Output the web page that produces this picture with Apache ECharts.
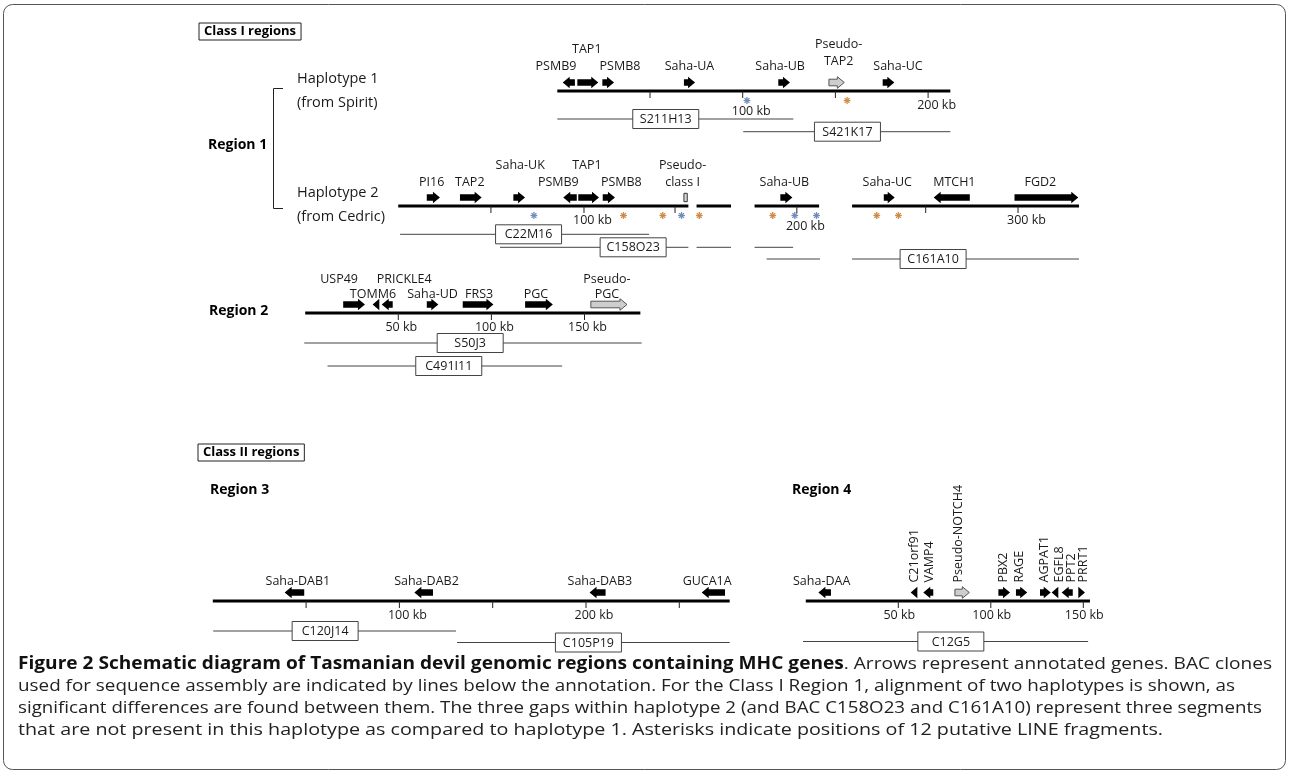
<!DOCTYPE html>
<html><head><meta charset="utf-8">
<script src="https://cdn.jsdelivr.net/npm/echarts@6/dist/echarts.min.js"></script>
<style>html,body{margin:0;padding:0;background:#fff}#c{width:1290px;height:775px}</style>
</head><body><div id="c"></div>
<script>
// ================= DATA (kb) =================
// Class I, Region 1, haplotype 1 (from Spirit)
const h1Genes   = ['PSMB9','TAP1','PSMB8','Saha-UA','Saha-UB','Pseudo-TAP2','Saha-UC'];
const h1Start   = [2.9, 10.8, 24.3, 68.3, 119.2, 146.5, 175.5];
const h1End     = [9.5, 22.1, 30.6, 74.3, 125.5, 154.8, 181.8];
const h1Strand  = ['-','+','+','+','+','+','+'];
const h1Segments = [[0, 212]];
const h1Ticks = [50, 100, 150, 200];
const h1TickLabels = ['', '100 kb', '', '200 kb'];
const h1LineFrags = [102.3, 156.3];
const h1LineFragType = ['b','o'];
const h1Clones = ['S211H13','S421K17'];
const h1CloneSpans = [[[0, 127.3]], [[100.3, 212]]];

// Class I, Region 1, haplotype 2 (from Cedric) — positions aligned to haplotype 1
const h2Genes   = ['PI16','TAP2','Saha-UK','PSMB9','TAP1','PSMB8','Pseudo-class I','Saha-UB','Saha-UC','MTCH1','FGD2'];
const h2Start   = [-70.4, -52.5, -23.7, 3.2, 11.3, 24.5, 68.3, 120.3, 176.1, 203.0, 246.6];
const h2End     = [-63.3, -40.8, -17.4, 10.5, 22.5, 31.1, 70.1, 126.8, 182.0, 222.5, 281.0];
const h2Strand  = ['+','+','+','-','+','+','.','+','+','-','+'];
const h2Segments = [[-85.8, 70.7], [75.1, 93.7], [106.4, 141.2], [159.0, 281.4]];
const h2Ticks = [-35.8, 14.4, 63.5, 129.2, 198.7, 248.5];
const h2TickLabels = ['', '100 kb', '', '200 kb', '', '300 kb'];
const h2LineFrags = [-12.6, 35.7, 56.9, 67.0, 76.6, 116.2, 128.1, 139.8, 172.3, 184.0];
const h2LineFragType = ['b','o','o','b','o','o','b','b','o','o'];
const h2Clones = ['C22M16','C158O23','C161A10'];
const h2CloneSpans = [[[-84.8, 49.5]], [[-30.9, 70.7], [75.1, 93.7], [106.4, 127.2]], [[112.9, 141.7], [159.0, 281.4]]];

// Class I, Region 2
const r2Genes   = ['USP49','TOMM6','PRICKLE4','Saha-UD','FRS3','PGC','Pseudo-PGC'];
const r2Start   = [20.4, 36.2, 41.1, 65.3, 84.6, 118.1, 153.4];
const r2End     = [32.1, 39.8, 47.0, 71.5, 101.1, 133.0, 172.8];
const r2Strand  = ['+','-','-','+','+','+','+'];
const r2Segments = [[0, 180]];
const r2Ticks = [50, 100, 150];
const r2TickLabels = ['50 kb', '100 kb', '150 kb'];
const r2Clones = ['S50J3','C491I11'];
const r2CloneSpans = [[[-0.5, 180.7]], [[12, 138]]];

// Class II, Region 3
const r3Genes   = ['Saha-DAB1','Saha-DAB2','Saha-DAB3','GUCA1A'];
const r3Start   = [38.5, 108.0, 201.9, 262.0];
const r3End     = [49.0, 118.0, 210.5, 274.5];
const r3Strand  = ['-','-','-','-'];
const r3Segments = [[0, 277]];
const r3Ticks = [50, 100, 150, 200, 250];
const r3TickLabels = ['', '100 kb', '', '200 kb', ''];
const r3Clones = ['C120J14','C105P19'];
const r3CloneSpans = [[[0.2, 130.3]], [[130.9, 277]]];

// Class II, Region 4
const r4Genes   = ['Saha-DAA','C21orf91','VAMP4','Pseudo-NOTCH4','PBX2','RAGE','AGPAT1','EGFL8','PPT2','PRRT1'];
const r4Start   = [6.8, 56.7, 63.5, 80.6, 104.1, 113.6, 126.6, 132.9, 138.3, 147.3];
const r4End     = [13.6, 60.3, 68.9, 88.4, 110.4, 119.7, 132.4, 136.5, 144.3, 150.9];
const r4Strand  = ['-','-','-','+','+','+','+','-','-','+'];
const r4Segments = [[0, 153.6]];
const r4Ticks = [50, 100, 150];
const r4TickLabels = ['50 kb', '100 kb', '150 kb'];
const r4Clones = ['C12G5'];
const r4CloneSpans = [[[-1.5, 152.6]]];

const captionBold = 'Figure 2 Schematic diagram of Tasmanian devil genomic regions containing MHC genes';
const captionLines = [
  '. Arrows represent annotated genes. BAC clones',
  'used for sequence assembly are indicated by lines below the annotation. For the Class I Region 1, alignment of two haplotypes is shown, as',
  'significant differences are found between them. The three gaps within haplotype 2 (and BAC C158O23 and C161A10) represent three segments',
  'that are not present in this haplotype as compared to haplotype 1. Asterisks indicate positions of 12 putative LINE fragments.'
];

// ================= LAYOUT (pixels, styles) =================
const FONT = '"Open Sans", "Noto Sans", sans-serif';
const SCALES = {
  r1: {px0: 557.3, ppk: 1.854, min: -92, max: 288},
  r2: {px0: 305.2, ppk: 1.862, min: -12, max: 186},
  r3: {px0: 212.8, ppk: 1.866, min: -4, max: 282},
  r4: {px0: 805.8, ppk: 1.850, min: -6, max: 160}
};
const LAYOUT = {
  h1: {scale: 'r1', base: 91, rows: [24.3, 41.7], cloneRows: [28, 40.7], tickDx: 8.5,
       labels: {'PSMB9':[-12.8,0], 'TAP1':[-1,1], 'PSMB8':[11.8,0], 'Saha-UA':[0,0], 'Saha-UB':[-4,0], 'Pseudo-TAP2':[2,0,-5], 'Saha-UC':[9.5,0]},
       boxes: {'S211H13':[58.5,0], 'S421K17':[156.5,1]}},
  h2: {scale: 'r1', base: 206, rows: [23.3, 41], cloneRows: [28.3, 41.3, 53], tickDx: 8.5,
       labels: {'PI16':[-1.7,0], 'TAP2':[-1,0], 'Saha-UK':[1,1], 'PSMB9':[-11.7,0], 'TAP1':[-1.7,1], 'PSMB8':[12.5,0],
                'Pseudo-class I':[-3,0], 'Saha-UB':[-2,0], 'Saha-UC':[-2,0], 'MTCH1':[2.6,0], 'FGD2':[-6,0]},
       boxes: {'C22M16':[-15.5,0], 'C158O23':[40.9,1], 'C161A10':[202.7,2]}},
  r2: {scale: 'r2', base: 313, rows: [19, 33.5], cloneRows: [30, 53], tickDx: 3,
       labels: {'USP49':[-15,1], 'TOMM6':[-3,0], 'PRICKLE4':[17,1], 'Saha-UD':[0,0], 'FRS3':[1,0], 'PGC':[-3,0], 'Pseudo-PGC':[-2,0]},
       boxes: {'S50J3':[88.6,0], 'C491I11':[77.1,1]}},
  r3: {scale: 'r3', base: 601, rows: [19.5, 36], cloneRows: [30, 41.5], tickDx: 8,
       labels: {'Saha-DAB1':[3.4,0], 'Saha-DAB2':[2.8,0], 'Saha-DAB3':[2.3,0], 'GUCA1A':[-6.2,0]},
       boxes: {'C120J14':[60.2,0], 'C105P19':[201.3,1]}},
  r4: {scale: 'r4', base: 601, rows: [19.5, 36], cloneRows: [40.5], tickDx: 1, vertBottom: 18.5,
       labels: {'Saha-DAA':[-3,0], 'C21orf91':[0,'v'], 'VAMP4':[1,'v'], 'Pseudo-NOTCH4':[-4,'v'], 'PBX2':[-1,'v'], 'RAGE':[-2,'v'],
                'AGPAT1':[-1,'v'], 'EGFL8':[4,'v'], 'PPT2':[4,'v'], 'PRRT1':[2,'v']},
       boxes: {'C12G5':[78.4,0]}}
};
const CAPTION = {x: 18, ys: [664, 686, 708, 730], ends: [1272, 1235, 1262, 1163], fontSize: 17};
const TRACKS = [
  {id:'h1', genes:h1Genes, start:h1Start, end:h1End, strand:h1Strand, segments:h1Segments, ticks:h1Ticks, tickLabels:h1TickLabels, frags:h1LineFrags, fragType:h1LineFragType, clones:h1Clones, spans:h1CloneSpans},
  {id:'h2', genes:h2Genes, start:h2Start, end:h2End, strand:h2Strand, segments:h2Segments, ticks:h2Ticks, tickLabels:h2TickLabels, frags:h2LineFrags, fragType:h2LineFragType, clones:h2Clones, spans:h2CloneSpans},
  {id:'r2', genes:r2Genes, start:r2Start, end:r2End, strand:r2Strand, segments:r2Segments, ticks:r2Ticks, tickLabels:r2TickLabels, frags:[], fragType:[], clones:r2Clones, spans:r2CloneSpans},
  {id:'r3', genes:r3Genes, start:r3Start, end:r3End, strand:r3Strand, segments:r3Segments, ticks:r3Ticks, tickLabels:r3TickLabels, frags:[], fragType:[], clones:r3Clones, spans:r3CloneSpans},
  {id:'r4', genes:r4Genes, start:r4Start, end:r4End, strand:r4Strand, segments:r4Segments, ticks:r4Ticks, tickLabels:r4TickLabels, frags:[], fragType:[], clones:r4Clones, spans:r4CloneSpans}
];
const FRAG_COLORS = {o: '#cf8a45', b: '#6f8cb8'};
const TXT = '#1a1a1a';

function geneShape(x1, x2, yc, strand, pseudo) {
  const w = x2 - x1, hh = 5.8, bh = 3.3, hl = Math.min(7, w);
  let pts;
  if (w < 8) pts = [[0,-hh],[w,0],[0,hh]];
  else pts = [[0,-bh],[w-hl,-bh],[w-hl,-hh],[w,0],[w-hl,hh],[w-hl,bh],[0,bh]];
  const P = pts.map(([px,py]) => [strand === '-' ? x2 - px : x1 + px, yc + py]);
  return {type:'polygon', shape:{points:P},
          style: pseudo ? {fill:'#cdcdcd', stroke:'#555', lineWidth:1} : {fill:'#000'}};
}

function makeRender(t) {
  const L = LAYOUT[t.id];
  return function (params, api) {
    const X = kb => api.coord([kb, 0])[0];
    const base = api.coord([0, 0])[1];
    const ch = [];
    t.segments.forEach(([a, b]) => ch.push({type:'line', shape:{x1:X(a), y1:base, x2:X(b), y2:base}, style:{stroke:'#000', lineWidth:3}}));
    t.ticks.forEach((k, i) => {
      const x = X(k);
      ch.push({type:'line', shape:{x1:x, y1:base, x2:x, y2:base + 7}, style:{stroke:'#222', lineWidth:1}});
      if (t.tickLabels[i]) {
        const lx = x + L.tickDx;
        const near = t.frags.some(p => Math.abs(X(p) - lx) < 14);
        ch.push({type:'text', style:{text:t.tickLabels[i], x:lx, y:base + (near ? 20.5 : 14.5), align:'center', verticalAlign:'middle',
                 fontSize:12.5, fontFamily:FONT, fill:TXT}});
      }
    });
    t.frags.forEach((p, i) => {
      const cx = X(p), cy = base + 9.5, r = 3.4, col = FRAG_COLORS[t.fragType[i]];
      [0, 45, 90, 135].forEach(a => {
        const dx = r * Math.cos(a * Math.PI / 180), dy = r * Math.sin(a * Math.PI / 180);
        ch.push({type:'line', shape:{x1:cx - dx, y1:cy - dy, x2:cx + dx, y2:cy + dy}, style:{stroke:col, lineWidth:1.3}});
      });
    });
    const yc = base - 8.5;
    t.genes.forEach((g, i) => {
      const x1 = X(t.start[i]), x2 = X(t.end[i]);
      const pseudo = g.indexOf('Pseudo-') === 0;
      if (t.strand[i] === '.') {
        ch.push({type:'rect', shape:{x:x1, y:yc - 4.2, width:x2 - x1, height:8.4}, style:{fill:'#d8d8d8', stroke:'#333', lineWidth:1}});
      } else {
        ch.push(geneShape(x1, x2, yc, t.strand[i], pseudo));
      }
      const lab = L.labels[g] || [0, 0];
      const cx = (x1 + x2) / 2 + lab[0];
      if (lab[1] === 'v') {
        ch.push({type:'text', x:cx, y:base - L.vertBottom, rotation:Math.PI / 2,
                 style:{text:g, x:0, y:0, align:'left', verticalAlign:'middle', fontSize:12.5, fontFamily:FONT, fill:TXT}});
      } else if (pseudo) {
        const lh = L.rows[1] - L.rows[0];
        const yb = base - L.rows[0] + (lab[2] || 0);
        ch.push({type:'text', style:{text:'Pseudo-\n' + g.slice(7), x:cx, y:yb + lh / 2, align:'center', verticalAlign:'bottom',
                 lineHeight:lh, fontSize:12.5, fontFamily:FONT, fill:TXT}});
      } else {
        ch.push({type:'text', style:{text:g, x:cx, y:base - L.rows[lab[1]] + (lab[2] || 0), align:'center', verticalAlign:'middle',
                 fontSize:12.5, fontFamily:FONT, fill:TXT}});
      }
    });
    t.clones.forEach((c, i) => {
      const bx = L.boxes[c];
      const y = base + L.cloneRows[bx[1]];
      t.spans[i].forEach(([a, b]) => ch.push({type:'line', shape:{x1:X(a), y1:y, x2:X(b), y2:y}, style:{stroke:'#444', lineWidth:1}}));
      const cx = X(bx[0]), bw = 66, bh = 19;
      ch.push({type:'rect', shape:{x:cx - bw / 2, y:y - bh / 2, width:bw, height:bh}, style:{fill:'#fff', stroke:'#444', lineWidth:1}});
      ch.push({type:'text', style:{text:c, x:cx, y:y + 0.5, align:'center', verticalAlign:'middle', fontSize:12.5, fontFamily:FONT, fill:TXT}});
    });
    return {type:'group', children:ch};
  };
}

const grids = [], xAxes = [], yAxes = [], series = [];
TRACKS.forEach((t, i) => {
  const L = LAYOUT[t.id], S = SCALES[L.scale];
  grids.push({left: S.px0 + S.min * S.ppk, width: (S.max - S.min) * S.ppk, top: L.base - 10, height: 10});
  xAxes.push({type:'value', gridIndex:i, min:S.min, max:S.max, show:false});
  yAxes.push({type:'value', gridIndex:i, min:0, max:1, show:false});
  series.push({type:'custom', coordinateSystem:'cartesian2d', xAxisIndex:i, yAxisIndex:i, data:[[0, 0]],
               renderItem:makeRender(t), clip:false, silent:true, animation:false});
});

function txt(text, x, y, opt) {
  return {type:'text', silent:true, style:Object.assign({text, x, y, align:'left', verticalAlign:'middle',
         fontSize:14, fontFamily:FONT, fill:TXT}, opt || {})};
}
const mctx = document.createElement('canvas').getContext('2d');
function measure(s, bold) { mctx.font = (bold ? 'bold ' : '') + CAPTION.fontSize + 'px "Open Sans"'; return mctx.measureText(s).width; }
const captionGraphics = captionLines.map((line, i) => {
  const w = (i === 0 ? measure(captionBold, true) : 0) + measure(line, false);
  const sx = (CAPTION.ends[i] - CAPTION.x) / w;
  const text = i === 0 ? '{b|' + captionBold + '}' + line : line;
  return {type:'text', silent:true, x:CAPTION.x, y:CAPTION.ys[i], scaleX:sx,
          style:{text, x:0, y:0, align:'left', verticalAlign:'middle', fontSize:CAPTION.fontSize, fontFamily:'"Open Sans"', fill:'#222',
                 rich:{b:{fontWeight:'bold', fontSize:CAPTION.fontSize, fontFamily:'"Open Sans"', fill:'#111'}}}};
});

const graphic = [
  {type:'rect', shape:{x:3.5, y:4.5, width:1282, height:765, r:9}, style:{fill:'none', stroke:'#555', lineWidth:1}, silent:true},
  txt('Class I regions', 199, 23, {fontSize:13, fontWeight:'bold', verticalAlign:'top', borderColor:'#222', borderWidth:1, padding:[2,5,2,5], fill:'#000'}),
  txt('Haplotype 1', 297, 79, {fontSize:14.5}),
  txt('(from Spirit)', 297, 103, {fontSize:14.5}),
  {type:'polyline', shape:{points:[[283,88.5],[273.5,88.5],[273.5,208.5],[283,208.5]]}, style:{stroke:'#222', lineWidth:1, fill:null}, silent:true},
  txt('Region 1', 208, 145, {fontWeight:'bold', fill:'#000'}),
  txt('Haplotype 2', 297, 193.3, {fontSize:14.5}),
  txt('(from Cedric)', 297, 216.7, {fontSize:14.5}),
  txt('Region 2', 209, 311, {fontWeight:'bold', fill:'#000'}),
  txt('Class II regions', 198, 444, {fontSize:13, fontWeight:'bold', verticalAlign:'top', borderColor:'#222', borderWidth:1, padding:[2,5,2,5], fill:'#000'}),
  txt('Region 3', 210, 490, {fontWeight:'bold', fill:'#000'}),
  txt('Region 4', 792, 490, {fontWeight:'bold', fill:'#000'})
].concat(captionGraphics);

const chart = echarts.init(document.getElementById('c'), null, {renderer:'canvas', width:1290, height:775});
chart.setOption({animation:false, backgroundColor:'#fff', grid:grids, xAxis:xAxes, yAxis:yAxes, series, graphic});
</script>
</body></html>
